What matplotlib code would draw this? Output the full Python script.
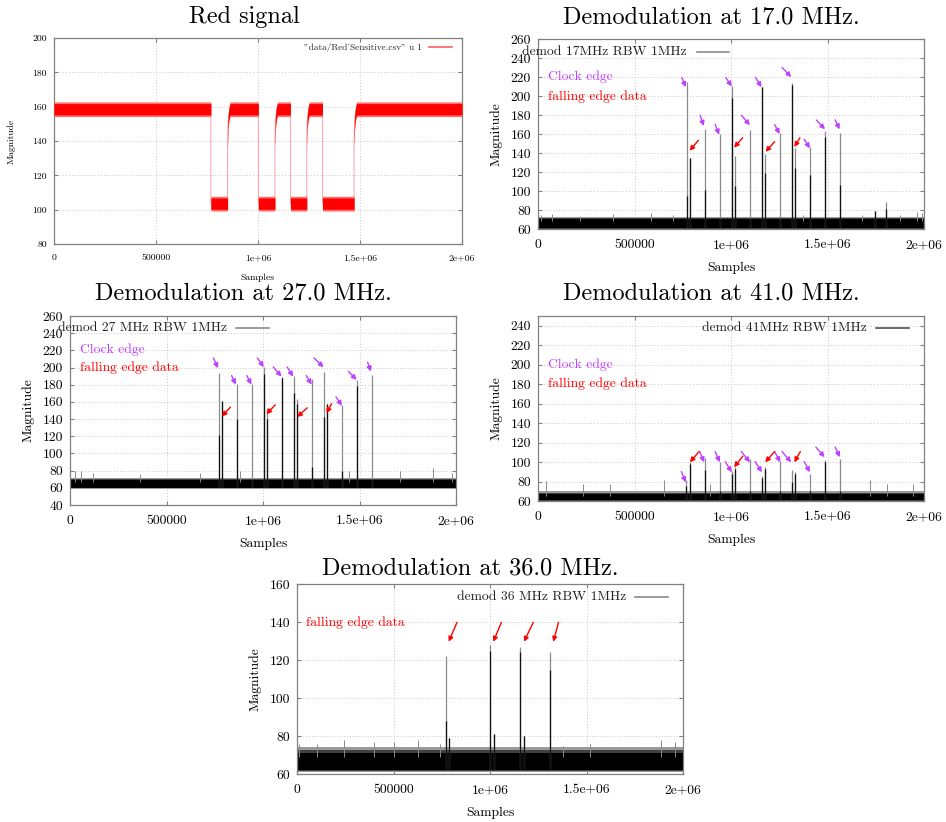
import numpy as np
import matplotlib
matplotlib.use("Agg")
import matplotlib.pyplot as plt

plt.rcParams['font.family'] = ['cmr10', 'DejaVu Serif']
plt.rcParams['mathtext.fontset'] = 'cm'
plt.rcParams['axes.unicode_minus'] = False

# ---------------- data ----------------
xticks_vals = [0, 500000, 1000000, 1500000, 2000000]
xticks_labels = ['0', '500000', '1e+06', '1.5e+06', '2e+06']

# Red signal (panel 1): mid level and noise half-width at breakpoints
red_x = [0, 769000, 769000, 851000, 851000, 853000, 857000, 863000, 1001600, 1001600,
         1083000, 1083000, 1085000, 1089000, 1095000, 1159000, 1159000, 1239000, 1239000,
         1241000, 1245000, 1251000, 1316000, 1316000, 1471000, 1471000, 1473000, 1477000,
         1483000, 2000000]
red_mid = [158.5, 158.5, 103.5, 103.5, 140, 150, 155.5, 158.5, 158.5, 103.5,
           103.5, 140, 150, 155.5, 158.5, 158.5, 103.5, 103.5, 140,
           150, 155.5, 158.5, 158.5, 103.5, 103.5, 140, 150, 155.5,
           158.5, 158.5]
red_spread = 3.3

# Demod 17 MHz
d17_x = [772700, 788200, 866000, 943800, 1004300, 1021600, 1099400, 1161600, 1177200,
         1255000, 1315500, 1332800, 1410500, 1488300, 1566100, 1747600, 1801200]
d17_peak = [215, 135, 165, 160, 210, 137, 164, 209, 139, 161, 214, 145, 146, 163, 161, 79, 88]
d17_inner = [95, 135, 101, 72, 198, 105, 72, 209, 119, 72, 212, 124, 117, 157, 106, 79, 81]
d17_band = [61, 70]
d17_nx = [14000, 71000, 216000, 389000, 588000, 700000, 942000, 1374000, 1677000, 1876000, 1962000, 1988000]
d17_ny = [75, 76, 74, 76, 77, 75, 77, 75, 75, 75, 78, 77]
d17_clock = [(0.766e6, 209.3, 0.745e6, 219.5), (0.859e6, 168.5, 0.840e6, 179.7),
             (0.939e6, 159.3, 0.918e6, 169.9), (1.004e6, 210.0, 0.973e6, 219.5),
             (1.098e6, 169.2, 1.054e6, 179.7), (1.158e6, 209.3, 1.127e6, 219.5),
             (1.252e6, 160.0, 1.226e6, 169.9), (1.312e6, 219.9, 1.265e6, 230.0),
             (1.409e6, 145.0, 1.379e6, 154.4), (1.487e6, 164.9, 1.442e6, 174.8),
             (1.563e6, 164.9, 1.540e6, 174.8)]
d17_fall = [(0.785e6, 142.4, 0.831e6, 153.3), (1.016e6, 145.6, 1.060e6, 156.0),
            (1.179e6, 141.3, 1.226e6, 151.9), (1.328e6, 146.3, 1.357e6, 156.0)]

# Demod 27 MHz
d27_x = [772700, 788000, 866000, 944000, 1004000, 1020000, 1099000, 1160000, 1175000,
         1253000, 1314000, 1331000, 1409000, 1487000, 1566000]
d27_peak = [194, 161, 181, 181, 201, 153, 189, 190, 163, 187, 195, 158, 156, 186, 191]
d27_inner = [122, 161, 140, 70, 193, 140, 188, 170, 158, 84, 143, 158, 80, 178, 70]
d27_band = [60, 69]
d27_nx = [24000, 59000, 119000, 361000, 672000, 880000, 1447000, 1710000, 1882000, 1978000]
d27_ny = [80, 79, 77, 76, 77, 79, 80, 79, 83, 77]
d27_clock = [(0.767e6, 199.2, 0.743e6, 211.2), (0.859e6, 180.2, 0.837e6, 190.7),
             (0.940e6, 180.2, 0.916e6, 190.7), (1.004e6, 200.4, 0.971e6, 211.2),
             (1.096e6, 189.5, 1.053e6, 200.7), (1.156e6, 189.5, 1.125e6, 200.7),
             (1.252e6, 180.2, 1.224e6, 190.7), (1.314e6, 200.4, 1.264e6, 211.2),
             (1.409e6, 155.4, 1.378e6, 165.9), (1.485e6, 185.6, 1.442e6, 195.7),
             (1.559e6, 195.3, 1.542e6, 206.2)]
d27_fall = [(0.787e6, 143.0, 0.831e6, 153.9), (1.018e6, 145.7, 1.063e6, 156.6),
            (1.177e6, 142.3, 1.229e6, 153.1), (1.329e6, 146.9, 1.355e6, 157.8)]

# Demod 41 MHz
d41_x = [769000, 788000, 866000, 944000, 1004000, 1022000, 1099000, 1162000, 1177000,
         1255000, 1315000, 1333000, 1411000, 1488000, 1566000]
d41_peak = [82, 100, 104, 100, 91, 95, 103, 86, 95, 101, 92, 90, 88, 102, 103]
d41_inner = [75, 98, 92, 70, 88, 93, 70, 84, 93, 70, 80, 88, 70, 100, 70]
d41_band = [61, 67]
d41_nx = [40000, 233000, 372000, 653000, 890000, 1720000, 1806000, 1945000]
d41_ny = [81, 77, 77.5, 81.5, 77.5, 81.5, 77.5, 77]
d41_clock = [(0.766e6, 79.2, 0.743e6, 90.2), (0.861e6, 99.8, 0.838e6, 110.8),
             (0.942e6, 99.8, 0.918e6, 110.8), (1.004e6, 89.5, 0.970e6, 100.5),
             (1.098e6, 99.8, 1.053e6, 110.8), (1.160e6, 89.5, 1.125e6, 100.5),
             (1.255e6, 99.8, 1.226e6, 110.8), (1.312e6, 99.8, 1.264e6, 110.8),
             (1.409e6, 89.5, 1.379e6, 100.5), (1.485e6, 105.0, 1.440e6, 115.3),
             (1.564e6, 105.0, 1.540e6, 115.3)]
d41_fall = [(0.787e6, 99.8, 0.835e6, 110.8), (1.016e6, 94.7, 1.061e6, 106.0),
            (1.177e6, 99.8, 1.226e6, 110.8), (1.328e6, 99.8, 1.359e6, 110.8)]

# Demod 36 MHz
d36_x = [772000, 1001700, 1157000, 1312000, 786000, 1019000, 1174000]
d36_peak = [122, 128, 127, 124, 79, 81, 80]
d36_inner = [88, 125, 124, 115, 79, 81, 80]
d36_band = [62, 71]
d36_nx = [9000, 103000, 241000, 397000, 500000, 629000, 741000, 1379000, 1517000, 1888000, 1957000]
d36_ny = [76, 76, 78, 77, 77, 78, 76, 75, 76, 78, 77]
d36_fall = [(0.786e6, 129.6, 0.829e6, 139.8), (1.017e6, 129.6, 1.059e6, 139.8),
            (1.176e6, 129.6, 1.224e6, 139.8), (1.328e6, 129.6, 1.355e6, 139.8)]

PURPLE = '#c040ff'
GRAYL = '#8a8a8a'

fig = plt.figure(figsize=(9.46, 8.22), dpi=100)
W, H = 946.0, 822.0


def make_ax(x0, y0, x1, y1):
    return fig.add_axes([x0 / W, 1 - y1 / H, (x1 - x0) / W, (y1 - y0) / H])


def style(ax, ylim, yticks, fs):
    ax.set_xlim(0, 2000000)
    ax.set_ylim(*ylim)
    ax.set_xticks(xticks_vals)
    ax.set_xticklabels(xticks_labels)
    ax.set_yticks(yticks)
    ax.grid(True, color='#c8c8c8', linestyle=(0, (1, 2)), linewidth=0.7)
    ax.set_axisbelow(True)
    for s in ax.spines.values():
        s.set_color('#808080')
        s.set_linewidth(0.9)
    ax.tick_params(direction='in', length=3, color='#808080', top=True, right=True,
                   labelsize=fs, pad=5)
    ax.tick_params(axis='x', pad=7)


def demod(ax, xs, peak, inner, band, nx, ny, base):
    # fuzzy noise halo (gray) above and below the dense black band
    ax.fill_between([0, 2000000], band[0] - 1, band[1] + 3, color='#9a9a9a', lw=0, zorder=2)
    ax.fill_between([0, 2000000], band[0] - 0.5, band[1] + 1.5, color='#404040', lw=0, zorder=2)
    ax.fill_between([0, 2000000], band[0], band[1], color='black', lw=0, zorder=2)
    ax.vlines(nx, band[1] - 2, ny, color=GRAYL, lw=0.7, zorder=2)
    ax.vlines(xs, base, peak, color=GRAYL, lw=0.9, zorder=3)
    ax.vlines(xs, base, inner, color='#101010', lw=0.9, zorder=3)


def arrows(ax, lst, color):
    for hx, hy, tx, ty in lst:
        ax.annotate('', xy=(hx, hy), xytext=(tx, ty),
                    arrowprops=dict(arrowstyle='-|>', color=color, lw=1.0,
                                    mutation_scale=7, shrinkA=0, shrinkB=0), zorder=5)


def legend(ax, label, tr, l0, l1, y, fs, color):
    ax.text(tr, y, label, transform=ax.transAxes, ha='right', va='center', fontsize=fs,
            color='#202020', zorder=6)
    ax.plot([l0, l1], [y, y], transform=ax.transAxes, color=color, lw=1.2, zorder=6,
            clip_on=False)


FS = 9.8
TFS = 17.5

# ---- Panel 1: Red signal ----
ax1 = make_ax(54, 38, 462, 244)
style(ax1, (80, 200), [80, 100, 120, 140, 160, 180, 200], 7.0)
rm = np.array(red_mid)
ax1.fill_between(red_x, rm - red_spread - 1.0, rm + red_spread + 1.0, color='#ff7070', lw=0, zorder=3)
ax1.fill_between(red_x, rm - red_spread, rm + red_spread, color='red', lw=0, zorder=3)
ax1.plot(red_x, red_mid, color='#ff9090', lw=0.6, zorder=2)
legend(ax1, '"data/Red_Sensitive.csv" u 1', 0.902, 0.919, 0.975, 0.956, 6.7, '#ff6060')
ax1.set_xlabel('Samples', fontsize=7.0, labelpad=8)
ax1.set_ylabel('Magnitude', fontsize=7.0, labelpad=12)
fig.text(244 / W, 1 - 17 / H, 'Red signal', ha='center', va='center', fontsize=TFS)

# ---- Panel 2: 17 MHz ----
ax2 = make_ax(538, 39, 924, 229)
style(ax2, (60, 260), list(range(60, 261, 20)), FS)
demod(ax2, d17_x, d17_peak, d17_inner, d17_band, d17_nx, d17_ny, 62)
arrows(ax2, d17_clock, PURPLE)
arrows(ax2, d17_fall, 'red')
ax2.text(52000, 220, 'Clock edge', color=PURPLE, fontsize=FS, va='center')
ax2.text(52000, 199.5, 'falling edge data', color='red', fontsize=FS, va='center')
legend(ax2, 'demod 17MHz RBW 1MHz', 0.386, 0.412, 0.495, 0.932, FS, GRAYL)
ax2.set_xlabel('Samples', fontsize=FS, labelpad=8)
ax2.set_ylabel('Magnitude', fontsize=FS, labelpad=6)
fig.text(711 / W, 1 - 17 / H, 'Demodulation at 17.0 MHz.', ha='center', va='center', fontsize=TFS)

# ---- Panel 3: 27 MHz ----
ax3 = make_ax(70, 316, 456, 505)
style(ax3, (40, 260), list(range(40, 261, 20)), FS)
demod(ax3, d27_x, d27_peak, d27_inner, d27_band, d27_nx, d27_ny, 61)
arrows(ax3, d27_clock, PURPLE)
arrows(ax3, d27_fall, 'red')
ax3.text(50000, 220.5, 'Clock edge', color=PURPLE, fontsize=FS, va='center')
ax3.text(50000, 200.4, 'falling edge data', color='red', fontsize=FS, va='center')
legend(ax3, 'demod 27 MHz RBW 1MHz', 0.407, 0.430, 0.515, 0.938, FS, GRAYL)
ax3.set_xlabel('Samples', fontsize=FS, labelpad=8)
ax3.set_ylabel('Magnitude', fontsize=FS, labelpad=6)
fig.text(243.5 / W, 1 - 293 / H, 'Demodulation at 27.0 MHz.', ha='center', va='center', fontsize=TFS)

# ---- Panel 4: 41 MHz ----
ax4 = make_ax(538, 316, 924, 501)
style(ax4, (60, 250), list(range(60, 241, 20)), FS)
demod(ax4, d41_x, d41_peak, d41_inner, d41_band, d41_nx, d41_ny, 61)
arrows(ax4, d41_clock, PURPLE)
arrows(ax4, d41_fall, 'red')
ax4.text(52000, 200.5, 'Clock edge', color=PURPLE, fontsize=FS, va='center')
ax4.text(52000, 180.2, 'falling edge data', color='red', fontsize=FS, va='center')
legend(ax4, 'demod 41MHz RBW 1MHz', 0.852, 0.876, 0.961, 0.933, FS, '#505050')
ax4.set_xlabel('Samples', fontsize=FS, labelpad=8)
ax4.set_ylabel('Magnitude', fontsize=FS, labelpad=6)
fig.text(711 / W, 1 - 293 / H, 'Demodulation at 41.0 MHz.', ha='center', va='center', fontsize=TFS)

# ---- Panel 5: 36 MHz ----
ax5 = make_ax(297, 584, 683, 774)
style(ax5, (60, 160), list(range(60, 161, 20)), FS)
demod(ax5, d36_x, d36_peak, d36_inner, d36_band, d36_nx, d36_ny, 62)
arrows(ax5, d36_fall, 'red')
ax5.text(48000, 139.8, 'falling edge data', color='red', fontsize=FS, va='center')
legend(ax5, 'demod 36 MHz RBW 1MHz', 0.854, 0.876, 0.961, 0.930, FS, GRAYL)
ax5.set_xlabel('Samples', fontsize=FS, labelpad=8)
ax5.set_ylabel('Magnitude', fontsize=FS, labelpad=6)
fig.text(470 / W, 1 - 568 / H, 'Demodulation at 36.0 MHz.', ha='center', va='center', fontsize=TFS)

fig.savefig('out.png', dpi=100)
